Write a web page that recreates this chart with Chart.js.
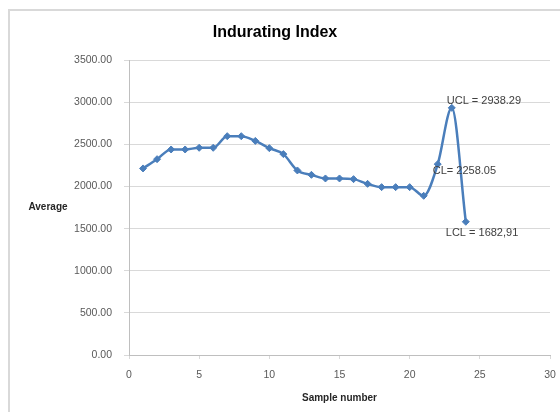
<!DOCTYPE html>
<html>
<head>
<meta charset="utf-8">
<script src="https://cdn.jsdelivr.net/npm/chart.js@4"></script>
<style>
  html, body { margin: 0; overflow: hidden; background: #fff; }
  body { width: 560px; height: 412px; position: relative; }
  #frame { position: absolute; left: 8px; top: 9px; width: 552px; height: 403px;
           border-left: 2px solid #d9d9d9; border-top: 2px solid #d9d9d9; box-sizing: border-box; }
  #chart { position: absolute; left: 0; top: 0; }
</style>
</head>
<body>
<div id="frame"></div>
<canvas id="chart" width="560" height="412"></canvas>
<script>
// Chart data
const sampleNumbers = [1, 2, 3, 4, 5, 6, 7, 8, 9, 10, 11, 12, 13, 14, 15, 16, 17, 18, 19, 20, 21, 22, 23, 24];
const averages = [2215, 2325, 2440, 2440, 2460, 2460, 2598, 2598, 2542, 2456, 2385, 2191,
                  2139, 2096, 2096, 2088, 2032, 1993, 1993, 1993, 1890, 2266, 2934, 1582];
const yTicks = [0, 500, 1000, 1500, 2000, 2500, 3000, 3500];
const xTicks = [0, 5, 10, 15, 20, 25, 30];
const limitPoints = [21, 22, 23]; // indexes of labelled points
const limitLabels = ['CL= 2258.05', 'UCL = 2938.29', 'LCL = 1682,91'];

const lineColor = '#4a7ebb';
const gridColor = '#d9d9d9';

// Draws the CL / UCL / LCL labels next to their points
const limitLabelPlugin = {
    id: 'limitLabels',
    afterDatasetsDraw(chart) {
        const ctx = chart.ctx;
        const meta = chart.getDatasetMeta(0);
        const offsets = [[-5, 7], [-5, -7], [-20, 11]];
        ctx.save();
        ctx.font = '11px "Liberation Sans", Arial, sans-serif';
        ctx.fillStyle = '#404040';
        ctx.textAlign = 'left';
        ctx.textBaseline = 'middle';
        limitPoints.forEach((idx, i) => {
            const pt = meta.data[idx];
            ctx.fillText(limitLabels[i], pt.x + offsets[i][0], pt.y + offsets[i][1]);
        });
        ctx.restore();
    }
};

// Horizontal y-axis title, like the spreadsheet original
const yTitlePlugin = {
    id: 'yTitle',
    afterDraw(chart) {
        const ctx = chart.ctx;
        const area = chart.chartArea;
        ctx.save();
        ctx.font = 'bold 10px "Liberation Sans", Arial, sans-serif';
        ctx.fillStyle = '#262626';
        ctx.textAlign = 'center';
        ctx.textBaseline = 'middle';
        ctx.fillText('Average', 48, (area.top + area.bottom) / 2);
        ctx.restore();
    }
};

new Chart(document.getElementById('chart').getContext('2d'), {
    type: 'line',
    data: {
        datasets: [{
            label: 'Average',
            data: sampleNumbers.map((n, i) => ({ x: n, y: averages[i] })),
            borderColor: lineColor,
            backgroundColor: lineColor,
            borderWidth: 2.5,
            cubicInterpolationMode: 'monotone',
            pointStyle: 'rectRot',
            pointRadius: 3.5,
            pointBorderWidth: 1
        }]
    },
    options: {
        responsive: false,
        animation: false,
        layout: { padding: { left: 0, right: 10, top: 0, bottom: 0 } },
        plugins: {
            legend: { display: false },
            tooltip: { enabled: false },
            title: {
                display: true,
                text: 'Indurating Index',
                color: '#000',
                font: { family: '"Liberation Sans", Arial, sans-serif', size: 16, weight: 'bold' },
                padding: { top: 23, bottom: 18 }
            }
        },
        scales: {
            x: {
                type: 'linear',
                min: xTicks[0],
                max: xTicks[xTicks.length - 1],
                afterBuildTicks: scale => { scale.ticks = xTicks.map(v => ({ value: v })); },
                afterFit: scale => { scale.height = 57; scale.paddingLeft = 0; scale.paddingRight = 0; },
                grid: { drawOnChartArea: false, color: gridColor, tickLength: 4 },
                border: { color: '#bfbfbf' },
                ticks: {
                    color: '#595959',
                    padding: 10,
                    maxRotation: 0,
                    font: { family: '"Liberation Sans", Arial, sans-serif', size: 10.5 }
                },
                title: {
                    display: true,
                    text: 'Sample number',
                    color: '#262626',
                    font: { family: '"Liberation Sans", Arial, sans-serif', size: 10, weight: 'bold' },
                    padding: { top: 0, bottom: 8 }
                }
            },
            y: {
                min: yTicks[0],
                max: yTicks[yTicks.length - 1],
                afterBuildTicks: scale => { scale.ticks = yTicks.map(v => ({ value: v })); },
                afterFit: scale => { scale.width = 129; },
                grid: { color: gridColor, tickLength: 5 },
                border: { color: '#bfbfbf' },
                ticks: {
                    color: '#595959',
                    padding: 12,
                    callback: v => Number(v).toFixed(2),
                    font: { family: '"Liberation Sans", Arial, sans-serif', size: 10.5 }
                }
            }
        }
    },
    plugins: [limitLabelPlugin, yTitlePlugin]
});
</script>
</body>
</html>
